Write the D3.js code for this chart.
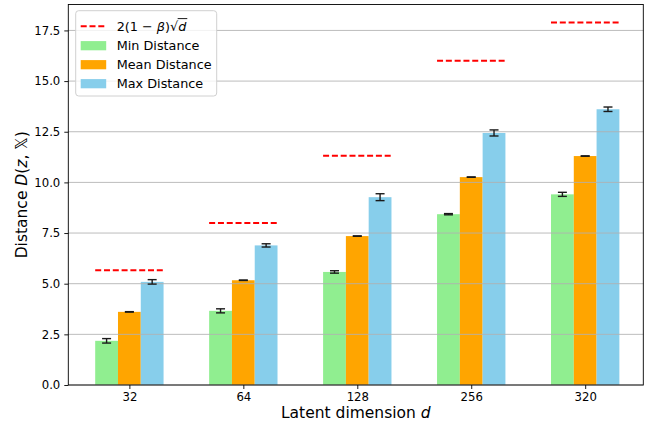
<!DOCTYPE html>
<html>
<head>
<meta charset="utf-8">
<script src="https://cdn.jsdelivr.net/npm/d3@7"></script>
<style>
  body { margin: 0; background: #fff; }
  svg { display: block; font-family: "DejaVu Sans", sans-serif; }
</style>
</head>
<body>
<div id="container"></div>
<script>
// data
const dims = ["32", "64", "128", "256", "320"]
const minDist = [2.18, 3.66, 5.58, 8.43, 9.41]
const minErr = [0.11, 0.10, 0.06, 0.03, 0.10]
const meanDist = [3.61, 5.17, 7.35, 10.26, 11.30]
const meanErr = [0.01, 0.01, 0.01, 0.01, 0.01]
const maxDist = [5.09, 6.89, 9.27, 12.44, 13.61]
const maxErr = [0.11, 0.08, 0.17, 0.15, 0.11]
const bound = [5.66, 8.0, 11.31, 16.0, 17.89]   // 2(1-beta)sqrt(d)
const yTicks = [0, 2.5, 5, 7.5, 10, 12.5, 15, 17.5]

const width = 649, height = 425
const margin = ({top: 4.5, right: 5.7, bottom: 40, left: 68.3})

const series = [
    {name: "Min Distance", vals: minDist, err: minErr, color: "#90ee90", off: -0.2},
    {name: "Mean Distance", vals: meanDist, err: meanErr, color: "#ffa500", off: 0},
    {name: "Max Distance", vals: maxDist, err: maxErr, color: "#87ceeb", off: 0.2}
]

const svg = d3.select("#container").append("svg")
    .attr("width", width).attr("height", height)

const x = d3.scaleLinear().domain([-0.536, 4.51]).range([margin.left, width - margin.right])
const y = d3.scaleLinear().domain([0, 18.78]).range([height - margin.bottom, margin.top])
const bw = x(0.2) - x(0)

// bars
series.forEach(s => {
    svg.append("g").selectAll("rect")
        .data(s.vals)
        .enter().append("rect")
        .attr("x", (d, i) => x(i + s.off) - bw / 2)
        .attr("y", d => y(d))
        .attr("width", bw)
        .attr("height", d => y(0) - y(d))
        .attr("fill", s.color)
})

// grid goes over the bars, like matplotlib's default zorder
svg.append("g").selectAll("line")
    .data(yTicks)
    .enter().append("line")
    .attr("x1", x.range()[0]).attr("x2", x.range()[1])
    .attr("y1", d => y(d)).attr("y2", d => y(d))
    .attr("stroke", "#b0b0b0").attr("stroke-opacity", 0.85).attr("stroke-width", 1)

// error bars
series.forEach(s => {
    const g = svg.append("g").attr("stroke", "#1a1a1a").attr("stroke-width", 1.4)
    s.vals.forEach((v, i) => {
        const cx = x(i + s.off)
        g.append("line").attr("x1", cx).attr("x2", cx)
            .attr("y1", y(v - s.err[i])).attr("y2", y(v + s.err[i]))
        ;[v - s.err[i], v + s.err[i]].forEach(e => {
            g.append("line").attr("x1", cx - 4.5).attr("x2", cx + 4.5)
                .attr("y1", y(e)).attr("y2", y(e))
        })
    })
})

// dashed bound lines
svg.append("g").selectAll("line")
    .data(bound)
    .enter().append("line")
    .attr("x1", (d, i) => x(i - 0.3)).attr("x2", (d, i) => x(i + 0.3))
    .attr("y1", d => y(d)).attr("y2", d => y(d))
    .attr("stroke", "red").attr("stroke-width", 2).attr("stroke-dasharray", "6,2.8")

// axes
const yAxis = svg.append("g")
    .attr("transform", `translate(${margin.left},0)`)
    .call(d3.axisLeft(y).tickValues(yTicks).tickFormat(d3.format(".1f")).tickSize(4).tickPadding(4))
const xAxis = svg.append("g")
    .attr("transform", `translate(0,${y(0)})`)
    .call(d3.axisBottom(x).tickValues(d3.range(dims.length)).tickFormat(i => dims[i]).tickSize(4).tickPadding(4))
;[yAxis, xAxis].forEach(a => {
    a.select(".domain").remove()
    a.selectAll("text").attr("font-size", 11.7).attr("fill", "#000").attr("font-family", "DejaVu Sans")
    a.selectAll("line").attr("stroke", "#000").attr("stroke-width", 0.9)
})

// frame
svg.append("rect")
    .attr("x", margin.left).attr("y", margin.top)
    .attr("width", x.range()[1] - margin.left).attr("height", y(0) - margin.top)
    .attr("fill", "none").attr("stroke", "#000").attr("stroke-width", 0.9)

// axis labels
const xl = svg.append("text")
    .attr("x", (x.range()[0] + x.range()[1]) / 2).attr("y", 418)
    .attr("text-anchor", "middle").attr("font-size", 15.5)
xl.append("tspan").text("Latent dimension ")
xl.append("tspan").attr("font-style", "italic").text("d")

const yl = svg.append("text")
    .attr("transform", `translate(27,${(y(0) + margin.top) / 2}) rotate(-90)`)
    .attr("text-anchor", "middle").attr("font-size", 15.5)
yl.append("tspan").text("Distance ")
yl.append("tspan").attr("font-style", "italic").text("D")
yl.append("tspan").text("(")
yl.append("tspan").attr("font-style", "italic").text("z")
yl.append("tspan").text(", 𝕏)")

// legend
const leg = svg.append("g").attr("transform", "translate(75.7,10.7)")
leg.append("rect")
    .attr("width", 141).attr("height", 85.3).attr("rx", 3)
    .attr("fill", "#fff").attr("fill-opacity", 0.8)
    .attr("stroke", "#d0d0d0").attr("stroke-width", 1)
const rowY = [15.5, 35, 54, 73]
leg.append("line")
    .attr("x1", 5).attr("x2", 30).attr("y1", rowY[0]).attr("y2", rowY[0])
    .attr("stroke", "red").attr("stroke-width", 2).attr("stroke-dasharray", "6,2.8")
const lt = leg.append("text").attr("x", 41).attr("y", rowY[0] + 4.6).attr("font-size", 12.8)
lt.append("tspan").text("2(1 \u2212 ")
lt.append("tspan").attr("font-style", "italic").text("β")
lt.append("tspan").text(")√")
const dSpan = lt.append("tspan").attr("font-style", "italic").text("d")
// overbar of the radical
const pre = lt.node().getComputedTextLength() - dSpan.node().getComputedTextLength()
leg.append("line")
    .attr("x1", 41 + pre - 0.5).attr("x2", 41 + lt.node().getComputedTextLength() + 1)
    .attr("y1", rowY[0] - 7.6).attr("y2", rowY[0] - 7.6)
    .attr("stroke", "#000").attr("stroke-width", 0.9)

series.forEach((s, i) => {
    const cy = rowY[i + 1]
    leg.append("rect").attr("x", 5).attr("y", cy - 4.6).attr("width", 25.5).attr("height", 9.2).attr("fill", s.color)
    leg.append("text").attr("x", 41).attr("y", cy + 4.6).attr("font-size", 12.8).text(s.name)
})
</script>
</body>
</html>
